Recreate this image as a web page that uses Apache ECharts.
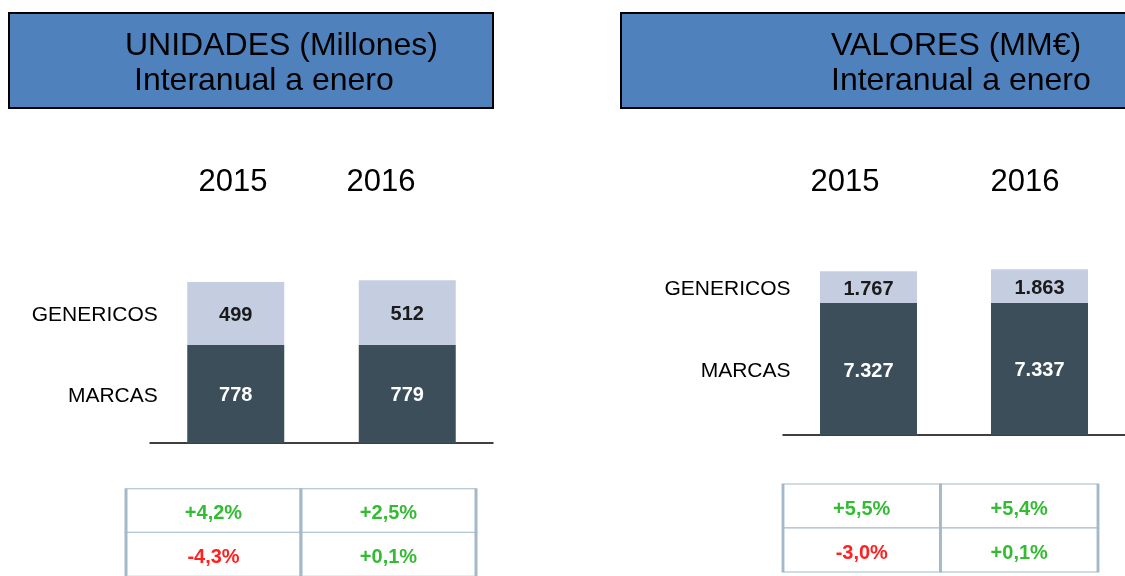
<!DOCTYPE html>
<html>
<head>
<meta charset="utf-8">
<script src="https://cdn.jsdelivr.net/npm/echarts@6/dist/echarts.min.js"></script>
<style>
  html, body { margin: 0; padding: 0; background: #fff; }
  #main { width: 1125px; height: 576px; }
</style>
</head>
<body>
<div id="main"></div>
<script>
// datos
var years = ['2015', '2016'];
var rows = ['GENERICOS', 'MARCAS'];
var unidadesMarcas = [778, 779];
var unidadesGenericos = [499, 512];
var valoresMarcas = [7327, 7337];
var valoresGenericos = [1767, 1863];
// variacion interanual (%)
var unidadesVarGen = [4.2, 2.5];
var unidadesVarMarcas = [-4.3, 0.1];
var valoresVarGen = [5.5, 5.4];
var valoresVarMarcas = [-3.0, 0.1];

var FONT = '"Liberation Sans", Arial, sans-serif';
var DARK = '#3B4E59';
var LIGHT = '#C4CEE0';
var GREEN = '#33BB33';
var RED = '#FF2020';

function miles(v) {
  return String(v).replace(/\B(?=(\d{3})+(?!\d))/g, '.');
}
function pct(v) {
  return (v > 0 ? '+' : '') + v.toFixed(1).replace('.', ',') + '%';
}

// puntos para las etiquetas GENERICOS / MARCAS a la izquierda del primer bar
function rowLabelPoints(marcas, genericos) {
  return [
    { value: [years[0], marcas[0] + genericos[0] / 2], name: rows[0] },
    { value: [years[0], marcas[0] / 2], name: rows[1] }
  ];
}
function tableData(gen, marcas) {
  var out = [];
  for (var i = 0; i < years.length; i++) {
    out.push({ value: [years[i], rows[0]], v: gen[i] });
    out.push({ value: [years[i], rows[1]], v: marcas[i] });
  }
  return out;
}

var myChart = echarts.init(document.getElementById('main'));
var option;

var hiddenY = { type: 'value', show: false, splitLine: { show: false } };

function barSeries(idx, name, data, color, labelColor, fmt) {
  return {
    name: name,
    type: 'bar',
    stack: 'total' + idx,
    xAxisIndex: idx,
    yAxisIndex: idx,
    barWidth: 97,
    data: data,
    itemStyle: { color: color },
    label: {
      show: true,
      position: 'inside',
      offset: [0, 2],
      color: labelColor,
      fontFamily: FONT,
      fontWeight: 'bold',
      fontSize: 20,
      formatter: function (p) { return fmt(p.value); }
    },
    silent: true
  };
}

function rowLabelSeries(idx, points) {
  return {
    type: 'scatter',
    xAxisIndex: idx,
    yAxisIndex: idx,
    symbolSize: 0,
    data: points,
    silent: true,
    z: 5,
    itemStyle: { opacity: 1 },
    label: {
      show: true,
      position: 'left',
      distance: 78,
      offset: [0, 2],
      color: '#000',
      fontFamily: FONT,
      fontSize: 21,
      formatter: function (p) { return p.name; }
    }
  };
}

function tableSeries(idx, data, size, dy) {
  return {
    type: 'scatter',
    xAxisIndex: idx,
    yAxisIndex: idx,
    symbol: 'rect',
    symbolSize: size,
    data: data,
    silent: true,
    itemStyle: {
      color: '#fff',
      opacity: 1,
      borderColor: '#A3B8C8',
      borderWidth: 1.5
    },
    label: {
      show: true,
      position: 'inside',
      offset: [0, dy],
      fontFamily: FONT,
      fontWeight: 'bold',
      fontSize: 20,
      formatter: function (p) { return pct(p.data.v); }
    }
  };
}

var leftTable = tableData(unidadesVarGen, unidadesVarMarcas);
var rightTable = tableData(valoresVarGen, valoresVarMarcas);
[leftTable, rightTable].forEach(function (t) {
  t.forEach(function (d) {
    d.label = { color: d.v < 0 ? RED : GREEN };
  });
});

option = {
  backgroundColor: '#fff',
  animation: false,
  textStyle: { fontFamily: FONT },
  grid: [
    { left: 150, width: 343, top: 208, height: 235 },
    { left: 783, width: 344, top: 208, height: 227 },
    { left: 159, width: 296, top: 198, height: 10 },
    { left: 755, width: 360, top: 198, height: 10 },
    { left: 126, width: 350, top: 489, height: 88 },
    { left: 783, width: 315, top: 484, height: 88 }
  ],
  xAxis: [
    { gridIndex: 0, type: 'category', data: years, axisLabel: { show: false }, axisTick: { show: false },
      axisLine: { lineStyle: { color: '#000', width: 1.5 } } },
    { gridIndex: 1, type: 'category', data: years, axisLabel: { show: false }, axisTick: { show: false },
      axisLine: { lineStyle: { color: '#000', width: 1.5 } } },
    { gridIndex: 2, type: 'category', data: years, position: 'top', axisLine: { show: false }, axisTick: { show: false },
      axisLabel: { margin: 0, color: '#000', fontSize: 31, fontFamily: FONT } },
    { gridIndex: 3, type: 'category', data: years, position: 'top', axisLine: { show: false }, axisTick: { show: false },
      axisLabel: { margin: 0, color: '#000', fontSize: 31, fontFamily: FONT } },
    { gridIndex: 4, type: 'category', data: years, show: false },
    { gridIndex: 5, type: 'category', data: years, show: false }
  ],
  yAxis: [
    Object.assign({ gridIndex: 0, min: 0, max: 1865 }, hiddenY),
    Object.assign({ gridIndex: 1, min: 0, max: 12600 }, hiddenY),
    Object.assign({ gridIndex: 2 }, hiddenY),
    Object.assign({ gridIndex: 3 }, hiddenY),
    { gridIndex: 4, type: 'category', data: rows, inverse: true, show: false },
    { gridIndex: 5, type: 'category', data: rows, inverse: true, show: false }
  ],
  series: [
    barSeries(0, 'MARCAS', unidadesMarcas, DARK, '#fff', miles),
    barSeries(0, 'GENERICOS', unidadesGenericos, LIGHT, '#1a1a1a', miles),
    barSeries(1, 'MARCAS', valoresMarcas, DARK, '#fff', miles),
    barSeries(1, 'GENERICOS', valoresGenericos, LIGHT, '#1a1a1a', miles),
    rowLabelSeries(0, rowLabelPoints(unidadesMarcas, unidadesGenericos)),
    rowLabelSeries(1, rowLabelPoints(valoresMarcas, valoresGenericos)),
    tableSeries(4, leftTable, [175, 44], 3),
    tableSeries(5, rightTable, [157.5, 44], 3)
  ],
  graphic: [
    { type: 'rect', shape: { x: 9, y: 13, width: 484, height: 95 },
      style: { fill: '#4F81BD', stroke: '#000', lineWidth: 2 } },
    { type: 'rect', shape: { x: 621, y: 13, width: 512, height: 95 },
      style: { fill: '#4F81BD', stroke: '#000', lineWidth: 2 } },
    { type: 'text', x: 125, y: 46,
      style: { text: 'UNIDADES (Millones)', font: '32px ' + FONT, fill: '#000', verticalAlign: 'middle' } },
    { type: 'text', x: 134, y: 81,
      style: { text: 'Interanual a enero', font: '32px ' + FONT, fill: '#000', verticalAlign: 'middle' } },
    { type: 'text', x: 831, y: 46,
      style: { text: 'VALORES (MM€)', font: '32px ' + FONT, fill: '#000', verticalAlign: 'middle' } },
    { type: 'text', x: 831, y: 81,
      style: { text: 'Interanual a enero', font: '32px ' + FONT, fill: '#000', verticalAlign: 'middle' } }
  ]
};

option && myChart.setOption(option);
window.onresize = myChart.resize;
</script>
</body>
</html>
